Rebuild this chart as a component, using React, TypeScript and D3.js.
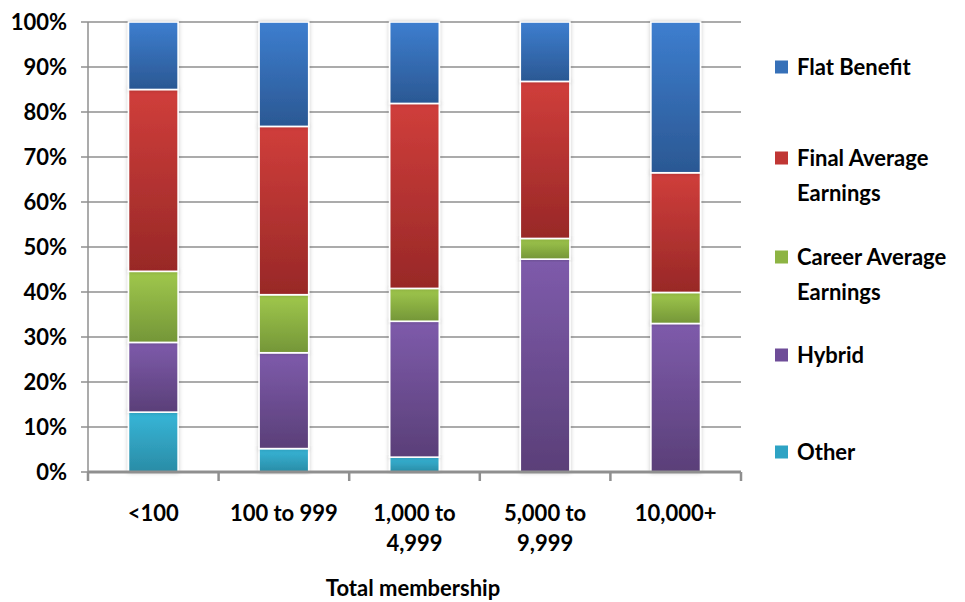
import React from "react";
import * as d3 from "d3";

const categories: string[][] = [["<100"], ["100 to 999"], ["1,000 to", "4,999"], ["5,000 to", "9,999"], ["10,000+"]];
const seriesNames = ["Other", "Hybrid", "Career Average Earnings", "Final Average Earnings", "Flat Benefit"];
const other = [13.3, 5.2, 3.3, 0, 0];
const hybrid = [15.5, 21.3, 30.2, 47.3, 33.0];
const career = [15.8, 12.9, 7.3, 4.6, 6.9];
const finalAvg = [40.4, 37.4, 41.1, 34.9, 26.6];
const flat = [15.0, 23.2, 18.1, 13.2, 33.5];
const yTicks = [0, 10, 20, 30, 40, 50, 60, 70, 80, 90, 100];
const legendLabels: string[][] = [["Flat Benefit"], ["Final Average", "Earnings"], ["Career Average", "Earnings"], ["Hybrid"], ["Other"]];
const xTitle = "Total membership";

const gradients = [
  { id: "g-other", top: "#37b6d8", bottom: "#2a8ca6" },
  { id: "g-hybrid", top: "#7e5bab", bottom: "#5a3f78" },
  { id: "g-career", top: "#a0c84c", bottom: "#749638" },
  { id: "g-final", top: "#d03e3b", bottom: "#982827" },
  { id: "g-flat", top: "#3d7ecf", bottom: "#2b5893" },
];
const legendColors = ["#3670b8", "#c03634", "#8db443", "#6e4c98", "#2ea3c4"];

const W = 965, H = 602;
const x0 = 88, x1 = 741, yTop = 22, yBot = 472;
const FONT = "Lato, 'Open Sans', sans-serif";

export default function App() {
  const n = categories.length;
  const idx = d3.range(n);
  const x = d3.scaleBand<number>().domain(idx).range([x0, x1]).paddingInner(0).paddingOuter(0);
  const y = d3.scaleLinear().domain([0, 100]).range([yBot, yTop]);
  const barW = x.bandwidth() * 0.38;

  const rows = idx.map((i) => ({
    i,
    s0: other[i], s1: hybrid[i], s2: career[i], s3: finalAvg[i], s4: flat[i],
  }));
  const stack = d3.stack<any>().keys(["s0", "s1", "s2", "s3", "s4"]);
  const layers = stack(rows);

  const boundaries = d3.range(n + 1).map((k) => (k < n ? (x(k) as number) : x1));

  const legendY = [67, 158, 257, 355, 452];

  return (
    <svg width={W} height={H} style={{ position: "absolute", left: 0, top: 0, background: "#fff" }}>
      <defs>
        {gradients.map((g) => (
          <linearGradient key={g.id} id={g.id} x1="0" y1="0" x2="0" y2="1">
            <stop offset="0" stopColor={g.top} />
            <stop offset="1" stopColor={g.bottom} />
          </linearGradient>
        ))}
        <filter id="shadow" x="-30%" y="-10%" width="160%" height="120%">
          <feDropShadow dx="0" dy="0" stdDeviation="2.2" floodColor="#000" floodOpacity="0.22" />
        </filter>
      </defs>

      {/* gridlines */}
      {yTicks.filter((t) => t > 0).map((t) => (
        <line key={t} x1={x0} x2={x1} y1={y(t)} y2={y(t)} stroke="#8f8f8f" strokeWidth={1.5} />
      ))}

      {/* y axis */}
      <line x1={x0} x2={x0} y1={yTop} y2={yBot} stroke="#8f8f8f" strokeWidth={1.5} />
      {yTicks.map((t) => (
        <g key={t}>
          <line x1={x0 - 7} x2={x0} y1={y(t)} y2={y(t)} stroke="#8f8f8f" strokeWidth={1.5} />
          <text x={67} y={y(t)} dy="0.36em" textAnchor="end" fontFamily={FONT} fontWeight={700} fontSize={22} fill="#000">
            {t}%
          </text>
        </g>
      ))}

      {/* bars */}
      {layers.map((layer, li) => (
        <g key={li}>
          {layer.map((d, i) => {
            const h = y(d[0]) - y(d[1]);
            if (h <= 0) return null;
            const cx = (x(i) as number) + x.bandwidth() / 2;
            return (
              <rect
                key={i}
                x={cx - barW / 2}
                y={y(d[1])}
                width={barW}
                height={h}
                fill={`url(#${gradients[li].id})`}
                stroke="#fff"
                strokeWidth={1.6}
                filter="url(#shadow)"
              />
            );
          })}
        </g>
      ))}

      {/* x axis */}
      <line x1={x0} x2={x1} y1={yBot} y2={yBot} stroke="#8f8f8f" strokeWidth={3} />
      {boundaries.map((bx, k) => (
        <line key={k} x1={bx} x2={bx} y1={yBot} y2={yBot + 9} stroke="#8f8f8f" strokeWidth={2.5} />
      ))}
      {categories.map((lines, i) => (
        <text key={i} x={(x(i) as number) + x.bandwidth() / 2} y={513} textAnchor="middle" fontFamily={FONT} fontWeight={700} fontSize={22} fill="#000">
          {lines.map((l, j) => (
            <tspan key={j} x={(x(i) as number) + x.bandwidth() / 2} dy={j === 0 ? "0.36em" : 30}>
              {l}
            </tspan>
          ))}
        </text>
      ))}
      <text x={413} y={588} dy="0.36em" textAnchor="middle" fontFamily={FONT} fontWeight={700} fontSize={22} fill="#000">
        {xTitle}
      </text>

      {/* legend */}
      {legendLabels.map((lines, i) => (
        <g key={i}>
          <rect x={775} y={legendY[i] - 6.5} width={13} height={13} fill={legendColors[i]} />
          <text x={797} y={legendY[i]} fontFamily={FONT} fontWeight={700} fontSize={22} fill="#000">
            {lines.map((l, j) => (
              <tspan key={j} x={797} dy={j === 0 ? "0.36em" : 35}>
                {l}
              </tspan>
            ))}
          </text>
        </g>
      ))}
    </svg>
  );
}
